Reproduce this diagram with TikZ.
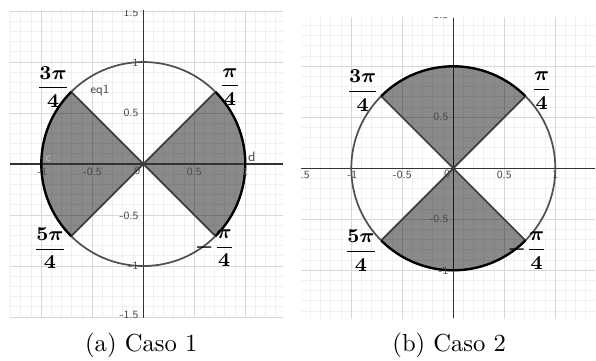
\documentclass[tikz,border=0pt]{standalone}
\usepackage{amsmath}
\usepackage{xcolor}
\usepackage{tikz}
\usetikzlibrary{
    arrows.meta,
    positioning,
    calc
}
\definecolor{gridminor}{HTML}{F0F0F0}
\definecolor{gridmajor}{HTML}{D8D8D8}
\definecolor{axisdark}{HTML}{333333}
\definecolor{circlegray}{HTML}{505050}
\definecolor{sectoredge}{HTML}{3C3C3C}
\definecolor{ticktext}{HTML}{4A4A4A}
\definecolor{labelpale}{HTML}{B8B8B8}

% grid of one panel: xmin, xmax, ymin, ymax
\newcommand{\planegrid}[4]{%
    \clip (#1,#3) rectangle (#2,#4);
    \foreach \k in {-16,...,16} {
        \draw[gridminor, line width=0.35pt] (\k/10,-1.6) -- (\k/10,1.6);
        \draw[gridminor, line width=0.35pt] (-1.6,\k/10) -- (1.6,\k/10);
    }
    \foreach \k in {-1.5,-1,...,1.5} {
        \draw[gridmajor, line width=0.4pt] (\k,-1.6) -- (\k,1.6);
        \draw[gridmajor, line width=0.4pt] (-1.6,\k) -- (1.6,\k);
    }
    \draw[axisdark, line width=0.55pt] (#1,0) -- (#2,0);
    \draw[axisdark, line width=0.55pt] (0,#3) -- (0,#4);
}

\begin{document}
\begin{tikzpicture}[x=1.457cm, y=1.457cm,
    shade/.style={fill=black, fill opacity=0.46},
    radius line/.style={sectoredge, line width=0.7pt},
    arc line/.style={black, line width=0.95pt},
    unit circle/.style={circlegray, line width=0.7pt},
    ticklbl/.style={font=\fontsize{4.5}{5}\selectfont\sffamily, text=ticktext, inner sep=0.5pt},
    anglbl/.style={inner sep=0pt, font=\fontsize{8.5}{10}\selectfont},
    caplbl/.style={anchor=base, inner sep=0pt}
]
    \useasboundingbox (-1.405,-1.922) rectangle (4.438,1.608);

    % Caso 1
    \begin{scope}
        \begin{scope}
            \planegrid{-1.31}{1.37}{-1.505}{1.505}
            \fill[shade] (0,0) -- (-45:1) arc[start angle=-45, end angle=45, radius=1] -- cycle;
            \fill[shade] (0,0) -- (135:1) arc[start angle=135, end angle=225, radius=1] -- cycle;
            \draw[axisdark, line width=0.55pt] (-1.31,0) -- (1.37,0);
            \draw[unit circle] (0,0) circle[radius=1];
            \draw[radius line] (-45:1) -- (0,0) -- (45:1);
            \draw[radius line] (135:1) -- (0,0) -- (225:1);
            \draw[arc line] (-45:1) arc[start angle=-45, end angle=45, radius=1];
            \draw[arc line] (135:1) arc[start angle=135, end angle=225, radius=1];
            % tick labels
            \node[ticklbl] (ax-m1) at (-0.99,-0.075) {-1};
            \node[ticklbl] (ax-mh) at (-0.5,-0.075) {-0.5};
            \node[ticklbl] (ax-z) at (-0.06,-0.07) {0};
            \node[ticklbl] (ax-ph) at (0.5,-0.075) {0.5};
            \node[ticklbl] (ax-p1) at (1.0,-0.075) {1};
            \node[ticklbl, anchor=east] (ay-p3) at (-0.03,1.483) {1.5};
            \node[ticklbl, anchor=east] (ay-p1) at (-0.03,0.99) {1};
            \node[ticklbl, anchor=east] (ay-ph) at (-0.03,0.497) {0.5};
            \node[ticklbl, anchor=east] (ay-mh) at (-0.03,-0.507) {-0.5};
            \node[ticklbl, anchor=east] (ay-m1) at (-0.03,-1.0) {-1};
            \node[ticklbl, anchor=east] (ay-m3) at (-0.03,-1.48) {-1.5};
            % object names
            \node[ticklbl, font=\fontsize{5}{6}\selectfont\sffamily] (eqa) at (-0.425,0.725) {eq1};
            \node[ticklbl, font=\fontsize{5.5}{6}\selectfont\sffamily] (da) at (1.063,0.072) {d};
            \node[ticklbl, text=labelpale, font=\fontsize{5}{6}\selectfont\sffamily] (ca) at (-0.93,0.056) {c};
        \end{scope}
        \node[anglbl] (a-tq) at (-0.885,0.755) {$\boldsymbol{\dfrac{3\pi}{4}}$};
        \node[anglbl] (a-q) at (0.85,0.755) {$\boldsymbol{\dfrac{\pi}{4}}$};
        \node[anglbl] (a-fq) at (-0.915,-0.826) {$\boldsymbol{\dfrac{5\pi}{4}}$};
        \node[anglbl, anchor=east] (a-mq) at (0.9,-0.826) {$\boldsymbol{-\dfrac{\pi}{4}}$};
        \node[caplbl] (capa) at (-0.02,-1.84) {(a)\ Caso 1};
    \end{scope}

    % Caso 2
    \begin{scope}[shift={(3.039,-0.042)}]
        \begin{scope}
            \planegrid{-1.49}{1.39}{-1.47}{1.475}
            \fill[shade] (0,0) -- (45:1) arc[start angle=45, end angle=135, radius=1] -- cycle;
            \fill[shade] (0,0) -- (225:1) arc[start angle=225, end angle=315, radius=1] -- cycle;
            \draw[axisdark, line width=0.55pt] (-1.49,0) -- (1.39,0);
            \draw[unit circle] (0,0) circle[radius=1];
            \draw[radius line] (45:1) -- (0,0) -- (135:1);
            \draw[radius line] (225:1) -- (0,0) -- (315:1);
            \draw[arc line] (45:1) arc[start angle=45, end angle=135, radius=1];
            \draw[arc line] (225:1) arc[start angle=225, end angle=315, radius=1];
            % tick labels
            \node[ticklbl] (bx-m3) at (-1.5,-0.066) {-1.5};
            \node[ticklbl] (bx-m1) at (-0.99,-0.066) {-1};
            \node[ticklbl] (bx-mh) at (-0.5,-0.066) {-0.5};
            \node[ticklbl] (bx-z) at (-0.06,-0.055) {0};
            \node[ticklbl] (bx-ph) at (0.5,-0.066) {0.5};
            \node[ticklbl] (bx-p1) at (1.0,-0.066) {1};
            \node[ticklbl, anchor=east] (by-p3) at (-0.03,1.505) {1.5};
            \node[ticklbl, anchor=east] (by-ph) at (-0.03,0.5) {0.5};
            \node[ticklbl, anchor=east] (by-mh) at (-0.03,-0.5) {-0.5};
            \node[ticklbl, anchor=east] (by-m1) at (-0.03,-1.0) {-1};
        \end{scope}
        \node[anglbl] (b-tq) at (-0.888,0.761) {$\boldsymbol{\dfrac{3\pi}{4}}$};
        \node[anglbl] (b-q) at (0.866,0.761) {$\boldsymbol{\dfrac{\pi}{4}}$};
        \node[anglbl] (b-fq) at (-0.905,-0.808) {$\boldsymbol{\dfrac{5\pi}{4}}$};
        \node[anglbl, anchor=east] (b-mq) at (0.925,-0.808) {$\boldsymbol{-\dfrac{\pi}{4}}$};
        \node[caplbl] (capb) at (-0.04,-1.80) {(b)\ Caso 2};
    \end{scope}

\end{tikzpicture}
\end{document}
